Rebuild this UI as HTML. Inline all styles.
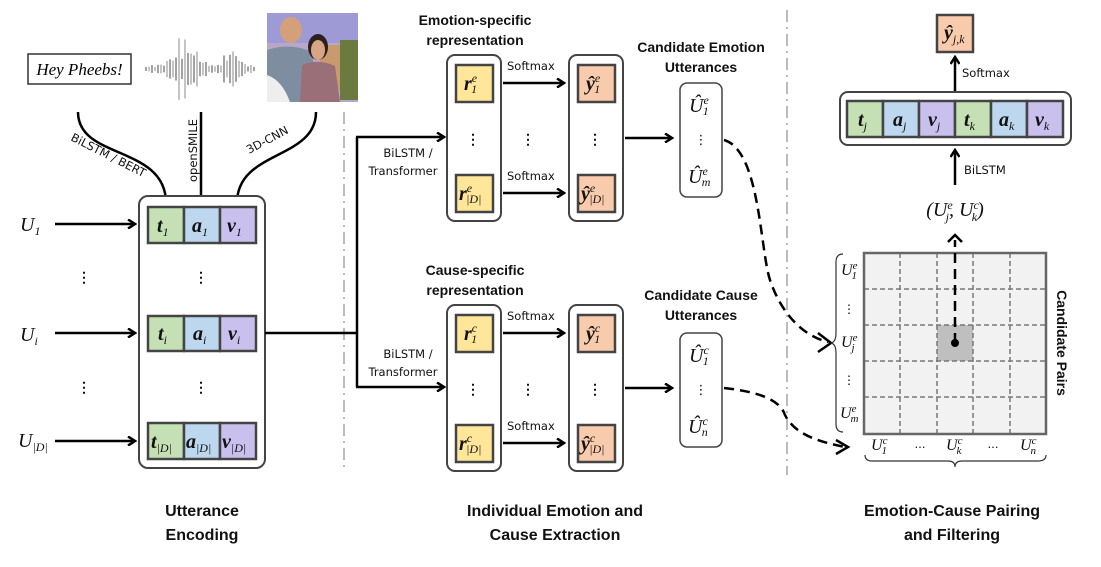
<!DOCTYPE html>
<html><head><meta charset="utf-8"><style>
html,body{margin:0;padding:0;background:#fff;}
svg{display:block;}
.b{font-family:"Liberation Sans",sans-serif;font-weight:bold;font-size:14px;fill:#111;}
.s{font-family:"DejaVu Sans",sans-serif;font-size:11.5px;fill:#111;}
.m{font-family:"Liberation Serif",serif;font-style:italic;font-size:20px;fill:#111;}
.mb{font-family:"Liberation Serif",serif;font-style:italic;font-weight:bold;font-size:20px;fill:#111;}
.sub{font-size:12px;font-weight:normal;}
.t{font-family:"Liberation Sans",sans-serif;font-weight:bold;font-size:16px;fill:#111;}
</style></head><body>
<svg id="sv" width="1101" height="567" viewBox="0 0 1101 567" xmlns="http://www.w3.org/2000/svg">
<defs>
<marker id="ar" markerWidth="10" markerHeight="10" refX="8" refY="5" orient="auto" markerUnits="userSpaceOnUse"><path d="M1,0.5 L8,5 L1,9.5" fill="none" stroke="#000" stroke-width="2.5"/></marker>
</defs>
<line x1="344" y1="112" x2="344" y2="470" stroke="#bbb" stroke-width="2" stroke-dasharray="12,5,2,5"/>
<line x1="787" y1="10" x2="787" y2="475" stroke="#bbb" stroke-width="2" stroke-dasharray="12,5,2,5"/>

<rect x="28" y="54" width="103" height="30" fill="#fff" stroke="#333" stroke-width="1.5"/>
<text x="79.5" y="75" text-anchor="middle" font-family="Liberation Serif,serif" font-style="italic" font-size="17">Hey Pheebs!</text>
<g id="wave" stroke="#666" stroke-width="1"></g>
<g>
<rect x="267" y="13" width="91" height="89" fill="#b9a7c9"/>
<rect x="267" y="13" width="91" height="30" fill="#9d9ad6"/>
<rect x="320" y="45" width="38" height="45" fill="#c99a6e"/>
<rect x="340" y="40" width="18" height="60" fill="#6b7a3e"/>
<ellipse cx="291" cy="30" rx="11" ry="13" fill="#d4a07a"/>
<path d="M267,50 Q290,42 312,52 L318,102 L267,102Z" fill="#7f8da0"/>
<ellipse cx="318" cy="47" rx="10" ry="13" fill="#2a2020"/>
<ellipse cx="318" cy="50" rx="7" ry="10" fill="#d7a584"/>
<path d="M302,65 Q318,58 335,66 L340,102 L300,102Z" fill="#9a6f78"/>
<path d="M267,75 Q282,80 290,102 L267,102Z" fill="#eee"/>
</g>

<path d="M78,112 C78,160 166,145 166,203" fill="none" stroke="#000" stroke-width="2.5" marker-end="url(#ar)"/>
<path d="M201,112 L201,203" fill="none" stroke="#000" stroke-width="2.5" marker-end="url(#ar)"/>
<path d="M316,112 C316,160 237,150 237,203" fill="none" stroke="#000" stroke-width="2.5" marker-end="url(#ar)"/>
<text class="s" transform="translate(70,140) rotate(27)">BiLSTM / BERT</text>
<text class="s" transform="translate(197,182) rotate(-90)">openSMILE</text>
<text class="s" transform="translate(249,154) rotate(-28)">3D-CNN</text>

<rect x="139" y="196" width="126" height="272" rx="9" fill="#fff" stroke="#444" stroke-width="2"/>
<g stroke="#444" stroke-width="2.5">
<rect x="148" y="207" width="36" height="36" fill="#c5e0b4"/><rect x="184" y="207" width="36" height="36" fill="#bdd7ee"/><rect x="220" y="207" width="36" height="36" fill="#c9c0ee"/>
<rect x="148" y="316" width="36" height="35" fill="#c5e0b4"/><rect x="184" y="316" width="36" height="35" fill="#bdd7ee"/><rect x="220" y="316" width="36" height="35" fill="#c9c0ee"/>
<rect x="148" y="423" width="36" height="36" fill="#c5e0b4"/><rect x="184" y="423" width="36" height="36" fill="#bdd7ee"/><rect x="220" y="423" width="36" height="36" fill="#c9c0ee"/>
</g>
<text class="mb" x="157" y="232">t<tspan class="sub" dy="4">1</tspan></text>
<text class="mb" x="192" y="232">a<tspan class="sub" dy="4">1</tspan></text>
<text class="mb" x="227" y="232">v<tspan class="sub" dy="4">1</tspan></text>
<text class="mb" x="158" y="340">t<tspan class="sub" dy="4">i</tspan></text>
<text class="mb" x="193" y="340">a<tspan class="sub" dy="4">i</tspan></text>
<text class="mb" x="228" y="340">v<tspan class="sub" dy="4">i</tspan></text>
<text class="mb" x="151" y="448">t<tspan class="sub" dy="4">|D|</tspan></text>
<text class="mb" x="186" y="448">a<tspan class="sub" dy="4">|D|</tspan></text>
<text class="mb" x="222" y="448">v<tspan class="sub" dy="4">|D|</tspan></text>
<text class="b" x="201" y="282" text-anchor="middle" font-size="18">⋮</text>
<text class="b" x="201" y="392" text-anchor="middle" font-size="18">⋮</text>
<text class="b" x="84" y="282" text-anchor="middle" font-size="18">⋮</text>
<text class="b" x="84" y="392" text-anchor="middle" font-size="18">⋮</text>
<text class="m" x="20" y="231">U<tspan class="sub" dy="4">1</tspan></text>
<text class="m" x="20" y="341">U<tspan class="sub" dy="4">i</tspan></text>
<text class="m" x="18" y="447">U<tspan class="sub" dy="4">|D|</tspan></text>
<g stroke="#000" stroke-width="2.5" fill="none">
<line x1="55" y1="224" x2="135" y2="224" marker-end="url(#ar)"/>
<line x1="55" y1="333" x2="135" y2="333" marker-end="url(#ar)"/>
<line x1="55" y1="441" x2="135" y2="441" marker-end="url(#ar)"/>
<path d="M265,333 L357,333"/><path d="M357,137 L357,387"/>
<line x1="356" y1="137" x2="444" y2="137" marker-end="url(#ar)"/>
<line x1="356" y1="387" x2="444" y2="387" marker-end="url(#ar)"/>
</g>
<text class="s" x="408" y="157" text-anchor="middle">BiLSTM /</text>
<text class="s" x="403" y="175" text-anchor="middle">Transformer</text>
<text class="s" x="408" y="358" text-anchor="middle">BiLSTM /</text>
<text class="s" x="403" y="376" text-anchor="middle">Transformer</text>

<text class="b" x="475" y="25" text-anchor="middle">Emotion-specific</text>
<text class="b" x="475" y="45" text-anchor="middle">representation</text>
<text class="b" x="701" y="52" text-anchor="middle">Candidate Emotion</text>
<text class="b" x="701" y="72" text-anchor="middle">Utterances</text>
<text class="b" x="475" y="275" text-anchor="middle">Cause-specific</text>
<text class="b" x="475" y="295" text-anchor="middle">representation</text>
<text class="b" x="701" y="300" text-anchor="middle">Candidate Cause</text>
<text class="b" x="701" y="320" text-anchor="middle">Utterances</text>

<g id="blocks"></g>

<path d="M724,140 C760,150 760,250 770,280 C780,310 800,335 828,342" fill="none" stroke="#000" stroke-width="2.5" stroke-dasharray="10,6"/>
<path d="M818,333 L831,343 L818,352" fill="none" stroke="#000" stroke-width="2.5"/>
<path d="M724,388 C760,392 780,400 785,415 C795,435 820,442 845,447" fill="none" stroke="#000" stroke-width="2.5" stroke-dasharray="10,6"/>
<path d="M836,440 L848,447 L836,454" fill="none" stroke="#000" stroke-width="2.5"/>

<rect x="937" y="15" width="36" height="37" fill="#f8cbad" stroke="#444" stroke-width="2.5"/>
<text class="mb" x="944" y="39">ŷ<tspan class="sub" dy="4">j,k</tspan></text>
<line x1="955" y1="92" x2="955" y2="57" stroke="#000" stroke-width="2.5" marker-end="url(#ar)"/>
<text class="s" x="962" y="77">Softmax</text>
<rect x="840" y="92" width="231" height="53" rx="8" fill="#fff" stroke="#444" stroke-width="2"/>
<g stroke="#444" stroke-width="2.5">
<rect x="847" y="101" width="36" height="36" fill="#c5e0b4"/><rect x="883" y="101" width="36" height="36" fill="#bdd7ee"/><rect x="919" y="101" width="36" height="36" fill="#c9c0ee"/>
<rect x="955" y="101" width="36" height="36" fill="#c5e0b4"/><rect x="991" y="101" width="36" height="36" fill="#bdd7ee"/><rect x="1027" y="101" width="36" height="36" fill="#c9c0ee"/>
</g>
<text class="mb" x="858" y="126">t<tspan class="sub" dy="4">j</tspan></text>
<text class="mb" x="893" y="126">a<tspan class="sub" dy="4">j</tspan></text>
<text class="mb" x="928" y="126">v<tspan class="sub" dy="4">j</tspan></text>
<text class="mb" x="964" y="126">t<tspan class="sub" dy="4">k</tspan></text>
<text class="mb" x="999" y="126">a<tspan class="sub" dy="4">k</tspan></text>
<text class="mb" x="1035" y="126">v<tspan class="sub" dy="4">k</tspan></text>
<line x1="955" y1="185" x2="955" y2="150" stroke="#000" stroke-width="2.5" marker-end="url(#ar)"/>
<text class="s" x="964" y="174">BiLSTM</text>
<text class="m" x="955" y="216" text-anchor="middle" font-style="normal">(<tspan font-style="italic">U</tspan><tspan class="sub" dy="-7">e</tspan><tspan class="sub" dx="-7" dy="12">j</tspan><tspan dy="-5">, </tspan><tspan font-style="italic">U</tspan><tspan class="sub" dy="-7">c</tspan><tspan class="sub" dx="-7" dy="12">k</tspan><tspan dy="-5">)</tspan></text>
<path d="M948,242 L955,235 L962,242" fill="none" stroke="#000" stroke-width="2.5"/>
<rect x="864" y="253" width="182" height="181" fill="#f2f2f2"/>
<rect x="937" y="325" width="36" height="36" fill="#bfbfbf"/>
<g stroke="#777" stroke-width="1.5" stroke-dasharray="5,3">
<line x1="900" y1="253" x2="900" y2="434"/><line x1="937" y1="253" x2="937" y2="434"/><line x1="973" y1="253" x2="973" y2="434"/><line x1="1010" y1="253" x2="1010" y2="434"/>
<line x1="864" y1="289" x2="1046" y2="289"/><line x1="864" y1="325" x2="1046" y2="325"/><line x1="864" y1="361" x2="1046" y2="361"/><line x1="864" y1="397" x2="1046" y2="397"/>
</g>
<rect x="864" y="253" width="182" height="181" fill="none" stroke="#666" stroke-width="2.5"/>
<line x1="955" y1="343" x2="955" y2="240" stroke="#000" stroke-width="2.5" stroke-dasharray="10,6"/>
<circle cx="955" cy="343" r="4" fill="#000"/>
<path d="M843,254 Q836,254 836,262 L836,333 Q836,342 831,343 Q836,344 836,353 L836,424 Q836,432 843,432" fill="none" stroke="#333" stroke-width="1.2"/>
<path d="M865,455 Q865,461 872,461 L948,461 Q955,461 955,467 Q955,461 962,461 L1038,461 Q1046,461 1046,455" fill="none" stroke="#333" stroke-width="1.2"/>
<g font-family="Liberation Serif,serif" font-style="italic" font-size="16" fill="#111">
<text x="841" y="275">U<tspan font-size="11" dy="-6">e</tspan><tspan font-size="11" dx="-6" dy="10">1</tspan></text>
<text x="841" y="347">U<tspan font-size="11" dy="-6">e</tspan><tspan font-size="11" dx="-6" dy="10">j</tspan></text>
<text x="840" y="418">U<tspan font-size="11" dy="-6">e</tspan><tspan font-size="11" dx="-6" dy="10">m</tspan></text>
<text x="871" y="450">U<tspan font-size="11" dy="-6">c</tspan><tspan font-size="11" dx="-6" dy="10">1</tspan></text>
<text x="946" y="450">U<tspan font-size="11" dy="-6">c</tspan><tspan font-size="11" dx="-6" dy="10">k</tspan></text>
<text x="1020" y="450">U<tspan font-size="11" dy="-6">c</tspan><tspan font-size="11" dx="-6" dy="10">n</tspan></text>
</g>
<text x="849" y="313" font-size="12" text-anchor="middle" font-family="DejaVu Sans">⋮</text>
<text x="849" y="384" font-size="12" text-anchor="middle" font-family="DejaVu Sans">⋮</text>
<text x="920" y="448" font-size="11" text-anchor="middle" font-family="DejaVu Sans">…</text>
<text x="993" y="448" font-size="11" text-anchor="middle" font-family="DejaVu Sans">…</text>
<text class="b" transform="translate(1057,343) rotate(90)" text-anchor="middle" font-size="13">Candidate Pairs</text>

<text class="t" x="202" y="516" text-anchor="middle">Utterance</text>
<text class="t" x="202" y="540" text-anchor="middle">Encoding</text>
<text class="t" x="555" y="516" text-anchor="middle">Individual Emotion and</text>
<text class="t" x="555" y="540" text-anchor="middle">Cause Extraction</text>
<text class="t" x="952" y="516" text-anchor="middle">Emotion-Cause Pairing</text>
<text class="t" x="952" y="540" text-anchor="middle">and Filtering</text>
</svg>
<script>
var NS="http://www.w3.org/2000/svg";
function el(p,t,a,txt){var e=document.createElementNS(NS,t);for(var k in a)e.setAttribute(k,a[k]);if(txt!=null)e.innerHTML=txt;p.appendChild(e);return e;}
var w=document.getElementById("wave");
for(var i=0;i<37;i++){var x=146+i*3;var c=x-185,c2=x-232;var r=Math.abs(Math.sin(i*7.31)*Math.cos(i*1.7));var h=2+(28*Math.exp(-c*c/200)+18*Math.exp(-c2*c2/80))*(0.3+0.9*r)+2*r;el(w,"line",{x1:x,x2:x,y1:69-h,y2:69+h,stroke:i%2?"#888":"#444"});}
var g=document.getElementById("blocks");
function block(y0,sup){
 el(g,"rect",{x:447,y:y0,width:54,height:166,rx:8,fill:"#fff",stroke:"#444","stroke-width":2});
 el(g,"rect",{x:569,y:y0,width:54,height:166,rx:8,fill:"#fff",stroke:"#444","stroke-width":2});
 var ys=[y0+10,y0+120];
 ys.forEach(function(yy,i){
  el(g,"rect",{x:456,y:yy,width:37,height:37,fill:"#ffe699",stroke:"#444","stroke-width":2.5});
  el(g,"rect",{x:578,y:yy,width:37,height:37,fill:"#f8cbad",stroke:"#444","stroke-width":2.5});
  var s=i==0?"1":"|D|";
  el(g,"text",{"class":"mb",x:i?459:464,y:yy+25},'r<tspan class="sub" dy="-8">'+sup+'</tspan><tspan class="sub" dx="-6" dy="11">'+s+'</tspan>');
  el(g,"text",{"class":"mb",x:i?581:586,y:yy+25},'ŷ<tspan class="sub" dy="-8">'+sup+'</tspan><tspan class="sub" dx="-6" dy="11">'+s+'</tspan>');
  el(g,"line",{x1:503,y1:yy+18,x2:564,y2:yy+18,stroke:"#000","stroke-width":2.5,"marker-end":"url(#ar)"});
  el(g,"text",{"class":"s",x:507,y:yy+5},"Softmax");
 });
 var my=y0+83;
 [473,528,595].forEach(function(x){el(g,"text",{"class":"b",x:x,y:my+6,"text-anchor":"middle","font-size":"18"},"⋮");});
 el(g,"line",{x1:625,y1:my,x2:672,y2:my,stroke:"#000","stroke-width":2.5,"marker-end":"url(#ar)"});
 var cy=y0+28;
 el(g,"rect",{x:680,y:cy,width:42,height:114,rx:7,fill:"#fff",stroke:"#444","stroke-width":1.5});
 var last=sup=="e"?"m":"n";
 el(g,"text",{"class":"m",x:689,y:cy+29},'Û<tspan class="sub" dy="-8">'+sup+'</tspan><tspan class="sub" dx="-6" dy="11">1</tspan>');
 el(g,"text",{x:701,y:cy+61,"text-anchor":"middle","font-size":"13","font-family":"DejaVu Sans"},"⋮");
 el(g,"text",{"class":"m",x:688,y:cy+100},'Û<tspan class="sub" dy="-8">'+sup+'</tspan><tspan class="sub" dx="-6" dy="11">'+last+'</tspan>');
}
block(55,"e");block(305,"c");
</script>
</body></html>
